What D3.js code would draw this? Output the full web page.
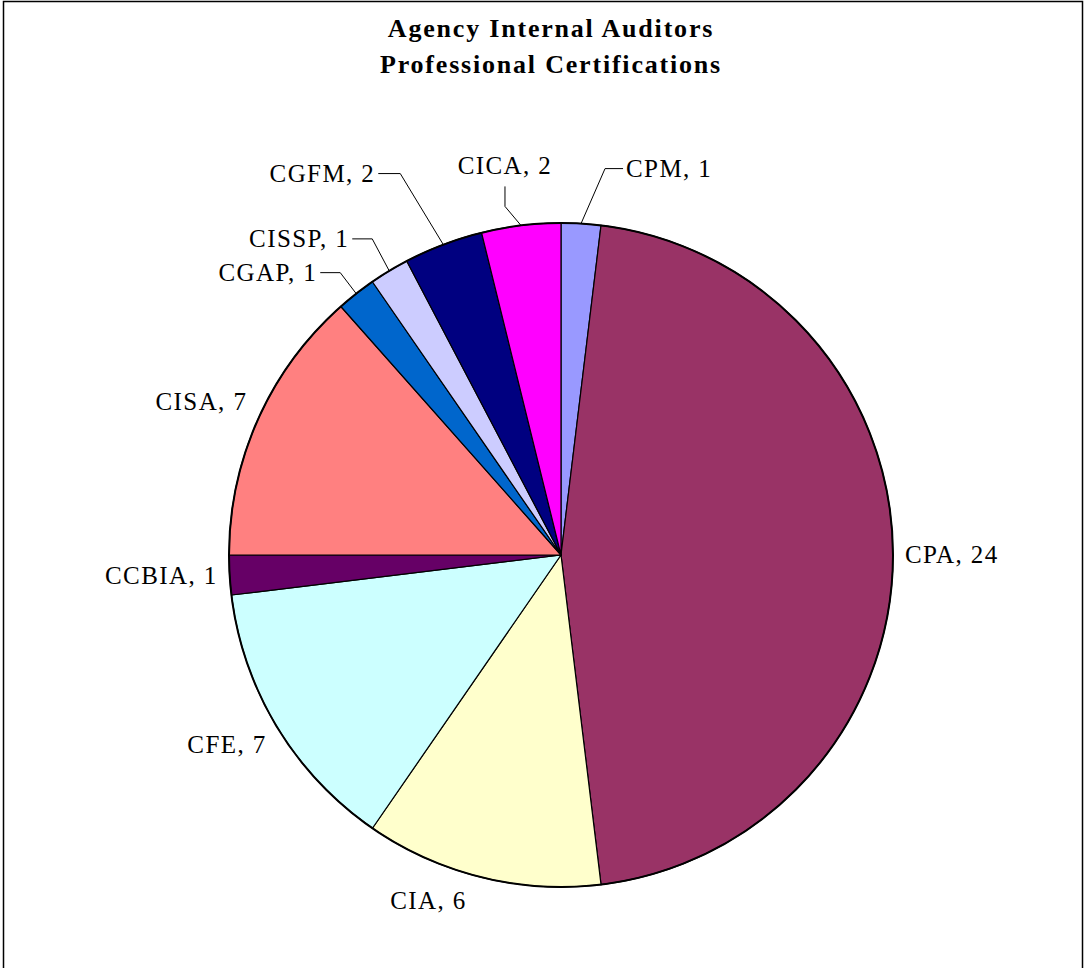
<!DOCTYPE html>
<html>
<head>
<meta charset="utf-8">
<script src="https://cdn.jsdelivr.net/npm/d3@7"></script>
<style>
  html, body { margin: 0; padding: 0; background: #fff; }
  svg { display: block; }
  text { font-family: "Liberation Serif", "Times New Roman", serif; fill: #000; }
</style>
</head>
<body>
<svg id="chart" width="1086" height="968"></svg>
<script>
// Certifications held by agency internal auditors, clockwise from 12 o'clock
const categories = ["CPM", "CPA", "CIA", "CFE", "CCBIA", "CISA", "CGAP", "CISSP", "CGFM", "CICA"];
const counts     = [1, 24, 6, 7, 1, 7, 1, 1, 2, 2];
const sliceColors = ["#9999FF", "#993366", "#FFFFCC", "#CCFFFF", "#660066",
                     "#FF8080", "#0066CC", "#CCCCFF", "#000080", "#FF00FF"];
const titleLines = ["Agency Internal Auditors", "Professional Certifications"];

const width = 1086, height = 968;
const cx = 561, cy = 555, radius = 332;

const svg = d3.select("#chart");

// chart frame (open at the bottom edge of the page)
svg.append("rect")
  .attr("x", 3.5).attr("y", 1.5)
  .attr("width", 1079).attr("height", 1000)
  .attr("fill", "none").attr("stroke", "#000").attr("stroke-width", 1.5);

// title
svg.append("g").selectAll("text")
  .data(titleLines)
  .join("text")
  .attr("x", 551)
  .attr("y", (d, i) => 37 + i * 36)
  .attr("text-anchor", "middle")
  .attr("font-size", 26)
  .attr("font-weight", "bold")
  .attr("letter-spacing", "1.8px")
  .text(d => d);

const data = categories.map((c, i) => ({ name: c, value: counts[i], color: sliceColors[i] }));

const pie = d3.pie().value(d => d.value).sort(null).startAngle(0).endAngle(2 * Math.PI);
const arcs = pie(data);
const arc = d3.arc().innerRadius(0).outerRadius(radius);

const g = svg.append("g").attr("transform", `translate(${cx},${cy})`);

g.selectAll("path.slice")
  .data(arcs)
  .join("path")
  .attr("class", "slice")
  .attr("d", arc)
  .attr("fill", d => d.data.color)
  .attr("stroke", "#000")
  .attr("stroke-width", 1.2)
  .attr("stroke-linejoin", "round");

g.append("circle")
  .attr("r", radius)
  .attr("fill", "none")
  .attr("stroke", "#000")
  .attr("stroke-width", 2);

// label placement: small slices get leader lines with an elbow,
// the rest sit just outside the rim
const leaders = {
  CPM:   { elbow: [24, -55],  tail: [18, 0] },
  CICA:  { elbow: [-16, -19], tail: [0, -20] },
  CGFM:  { elbow: [-43, -71], tail: [-22, 0] },
  CISSP: { elbow: [-17, -32], tail: [-20, 0] },
  CGAP:  { elbow: [-16, -21], tail: [-20, 0] }
};
const nudges = { CIA: [-12, 0] };

const labelSize = 25;
const labels = svg.append("g").attr("font-size", labelSize).attr("letter-spacing", "1.4px");

arcs.forEach(d => {
  const mid = (d.startAngle + d.endAngle) / 2;
  const sx = Math.sin(mid), sy = -Math.cos(mid);
  const label = `${d.data.name}, ${d.data.value}`;
  const lead = leaders[d.data.name];

  if (lead) {
    const ex = cx + sx * radius, ey = cy + sy * radius;
    const bx = ex + lead.elbow[0], by = ey + lead.elbow[1];
    const tx = bx + lead.tail[0], ty = by + lead.tail[1];
    labels.append("path")
      .attr("d", d3.line()([[ex, ey], [bx, by], [tx, ty]]))
      .attr("fill", "none").attr("stroke", "#000").attr("stroke-width", 1);
    const t = labels.append("text").text(label);
    if (lead.tail[1] !== 0) {
      t.attr("x", tx).attr("y", ty - 12).attr("text-anchor", "middle");
    } else if (lead.tail[0] > 0) {
      t.attr("x", tx + 3).attr("y", ty + 8).attr("text-anchor", "start");
    } else {
      t.attr("x", tx - 3).attr("y", ty + 8).attr("text-anchor", "end");
    }
  } else {
    const gap = 12;
    const px = cx + sx * (radius + gap), py = cy + sy * (radius + gap);
    const t = labels.append("text").text(label).attr("text-anchor", "middle");
    const w = t.node().getComputedTextLength();
    const h = 24;
    const ox = Math.abs(sx) > 0.1 ? Math.sign(sx) * w / 2 : sx * w / 2;
    const oy = Math.abs(sy) > 0.1 ? Math.sign(sy) * h / 2 : sy * h / 2;
    const n = nudges[d.data.name] || [0, 0];
    t.attr("x", px + ox + n[0]).attr("y", py + oy + 8 + n[1]);
  }
});
</script>
</body>
</html>
